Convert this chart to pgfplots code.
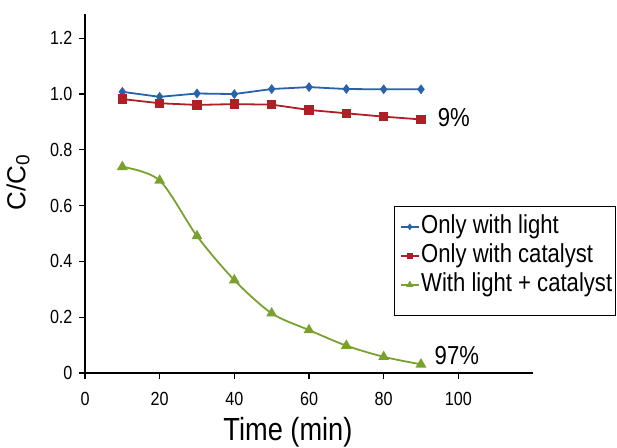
\documentclass[border=0pt]{standalone}
\usepackage{fontspec}
\setmainfont{Liberation Sans}
\usepackage{graphicx}
\usepackage{pgfplots}
\pgfplotsset{compat=1.18}
\usetikzlibrary{calc}

% slightly condensed text
\newcommand\sq[1]{\scalebox{0.85}[1]{#1}}

\definecolor{lightblue}{RGB}{41,98,170}
\definecolor{catred}{RGB}{176,30,38}
\definecolor{mixgreen}{RGB}{122,161,46}

\begin{document}
\begin{tikzpicture}
\begin{axis}[
  name=ax,
  scale only axis,
  width=448pt, height=359pt,
  xmin=0, xmax=120, ymin=0, ymax=1.287,
  axis lines=left,
  axis line style={-, line width=1.6pt, black},
  clip=false,
  xtick={0,20,40,60,80,100},
  xticklabels={\sq{0},\sq{20},\sq{40},\sq{60},\sq{80},\sq{100}},
  ytick={0,0.2,0.4,0.6,0.8,1.0,1.2},
  yticklabels={\sq{0},\sq{0.2},\sq{0.4},\sq{0.6},\sq{0.8},\sq{1.0},\sq{1.2}},
  tick align=outside,
  major tick length=6pt,
  tick style={black, line width=1.2pt},
  tick label style={font=\fontsize{19}{19}\selectfont},
  xticklabel style={yshift=-10pt},
  yticklabel style={xshift=-3pt},
  legend cell align=left,
  legend style={
    at={(1.185,0.455)}, anchor=north east,
    draw=none, fill=none,
    font=\fontsize{26}{29}\selectfont,
    inner xsep=2pt, inner ysep=2pt,
    row sep=-1pt,
    nodes={inner sep=1.5pt, text height=20pt, text depth=7pt},
  },
  legend image code/.code={
    \draw[#1, mark options={scale=0.55}, mark repeat=2, mark phase=2]
      plot coordinates {(0pt,0pt) (9pt,0pt) (18pt,0pt)};
  },
]

% Only with light
\addplot[color=lightblue, line width=1.8pt, mark=diamond*, mark size=3.5pt]
  coordinates {(10,1.008) (20,0.990) (30,1.002) (40,1.000) (50,1.018)
               (60,1.025) (70,1.018) (80,1.017) (90,1.017)};
\addlegendentry{\sq{Only with light}}

% Only with catalyst
\addplot[color=catred, line width=1.8pt, mark=square*, mark size=3.8pt]
  coordinates {(10,0.982) (20,0.967) (30,0.961) (40,0.964) (50,0.962)
               (60,0.943) (70,0.931) (80,0.919) (90,0.909)};
\addlegendentry{\sq{Only with catalyst}}

% With light + catalyst
\addplot[color=mixgreen, line width=1.8pt, smooth, mark=triangle*, mark size=4.5pt]
  coordinates {(10,0.739) (20,0.690) (30,0.491) (40,0.333) (50,0.214)
               (60,0.154) (70,0.098) (80,0.058) (90,0.031)};
\addlegendentry{\sq{With light + catalyst}}

% legend frame, with some room left below the entries
\draw[black, line width=0.9pt] (rel axis cs:0.690,0.1616) rectangle (rel axis cs:1.185,0.465);

\node[font=\fontsize{26}{26}\selectfont] at (axis cs:98.8,0.914) {\sq{9\%}};
\node[font=\fontsize{26}{26}\selectfont] at (axis cs:99.6,0.061) {\sq{97\%}};

\node[font=\fontsize{32}{32}\selectfont, anchor=base] at ($(rel axis cs:0.453,0)+(0,-67pt)$) {\sq{Time (min)}};
\node[font=\fontsize{26}{26}\selectfont, rotate=90] at ($(rel axis cs:0,0.529)+(-67pt,0)$)
  {C/C\raisebox{-0.3ex}{\fontsize{19}{19}\selectfont 0}};
\end{axis}
\pgfresetboundingbox
\path[use as bounding box] ($(ax.south west)+(-85pt,-74pt)$) rectangle ($(ax.south west)+(532pt,373pt)$);
\end{tikzpicture}
\end{document}
